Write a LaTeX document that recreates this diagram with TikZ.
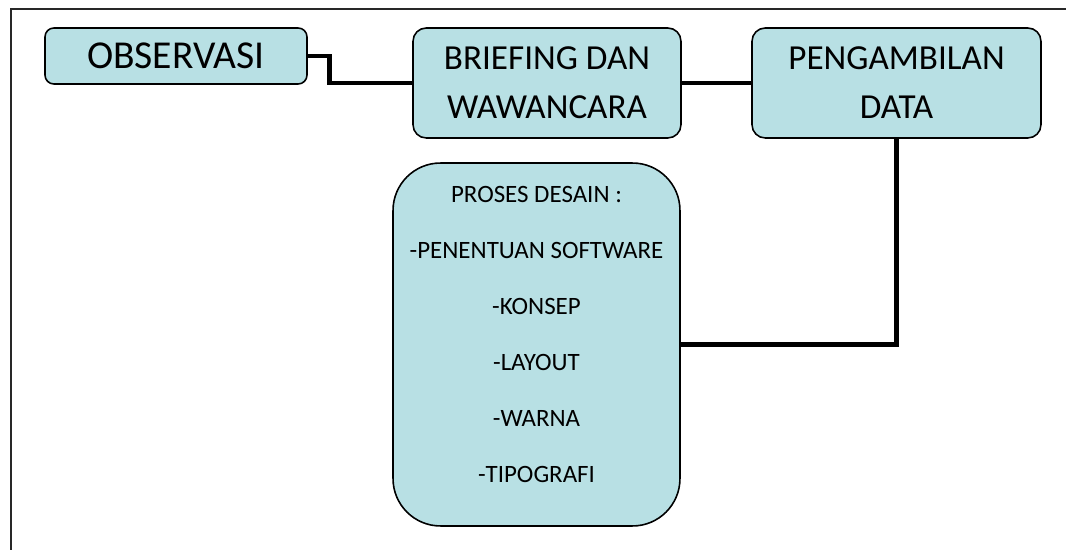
\documentclass[tikz,border=0pt]{standalone}
\usepackage{fontspec}
\setmainfont{Carlito}
\usepackage{xcolor}
\definecolor{boxblue}{RGB}{184, 224, 228}
\definecolor{framegray}{RGB}{40, 40, 40}

\tikzset{
  stagebox/.style={draw=black, line width=0.9pt, fill=boxblue, align=center,
    font=\fontsize{20}{27.9}\selectfont},
  link/.style={draw=black, line width=2.8pt},
}

\begin{document}
\begin{tikzpicture}[x=0.02cm, y=-0.02cm]
\useasboundingbox (0,0) rectangle (1066,550);
\draw[framegray, line width=0.8pt] (11,9) rectangle (1080,560);

% alur tahapan
\node[stagebox, rounded corners=5pt, minimum width=5.24cm, minimum height=1.12cm,
  font=\fontsize{22.5}{27}\selectfont] (obs) at (176,56) {OBSERVASI};
\node[stagebox, rounded corners=7.5pt, minimum width=5.36cm, minimum height=2.2cm] (brief) at (547,83) {BRIEFING DAN\\WAWANCARA};
\node[stagebox, rounded corners=7.5pt, minimum width=5.78cm, minimum height=2.2cm] (ambil) at (896.5,83) {PENGAMBILAN\\DATA};
\node[stagebox, rounded corners=27pt, minimum width=5.74cm, minimum height=7.26cm] (proses) at (536.5,344.5) {};
\node[align=center, font=\fontsize{14.2}{31.9}\selectfont] (desain) at ([yshift=0.2cm]proses.center) {
PROSES DESAIN :\\
-PENENTUAN SOFTWARE\\
-KONSEP\\
-LAYOUT\\
-WARNA\\
-TIPOGRAFI};

% penghubung
\draw[link] (obs.east) -- ++(22,0) |- (brief.west);
\draw[link] (brief.east) -- (ambil.west);
\draw[link] (ambil.south) |- (proses.east);
\end{tikzpicture}
\end{document}
